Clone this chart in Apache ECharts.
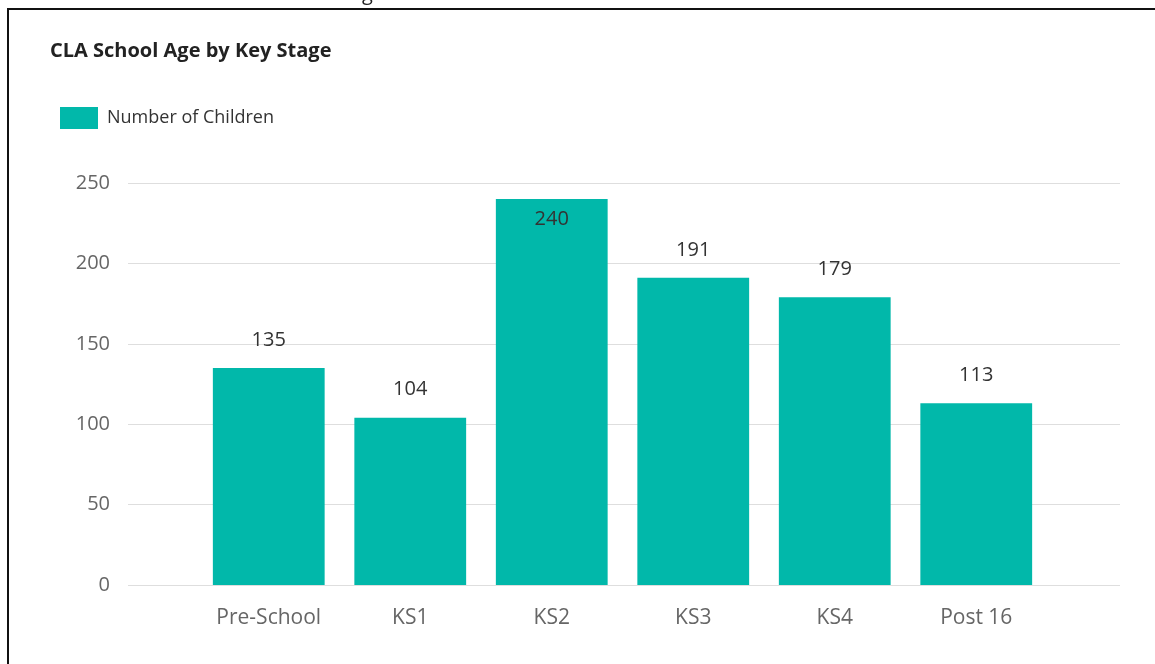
<!DOCTYPE html>
<html><head><meta charset="utf-8">
<script src="https://cdn.jsdelivr.net/npm/echarts@6/dist/echarts.min.js"></script>
<style>
html,body{margin:0;padding:0;background:#fff;}
#c{position:absolute;left:0;top:0;width:1155px;height:664px;}
#frame{position:absolute;left:7px;top:8px;width:1160px;height:700px;border-left:2px solid #111;border-top:2px solid #111;pointer-events:none;}
</style></head>
<body>
<div id="c"></div>
<div id="frame"></div>
<script>
const title = 'CLA School Age by Key Stage';
const seriesName = 'Number of Children';
const categories = ['Pre-School', 'KS1', 'KS2', 'KS3', 'KS4', 'Post 16'];
const values = [135, 104, 240, 191, 179, 113];
const yTicks = [0, 50, 100, 150, 200, 250];

const FONT = 'Open Sans';
const chart = echarts.init(document.getElementById('c'));
const yMax = yTicks[yTicks.length - 1];
const yInterval = yTicks[1] - yTicks[0];

chart.setOption({
  animation: false,
  textStyle: { fontFamily: FONT },
  title: {
    text: title, left: 45, top: 36,
    textStyle: { fontFamily: FONT, fontWeight: 'bold', fontSize: 20, color: '#222' }
  },
  graphic: [{
    type: 'text', left: 362, top: -16,
    style: { text: 'g', fontFamily: FONT, fontSize: 20, fill: '#222' }
  }],
  legend: {
    left: 55, top: 102, itemWidth: 38, itemHeight: 22, itemGap: 10,
    icon: 'rect',
    textStyle: { fontFamily: FONT, fontSize: 18, color: '#333', padding: [0, 0, 0, 4] },
    data: [seriesName]
  },
  grid: [
    { left: 128, right: 35, top: 183, bottom: 79 },
    { left: 198, right: 108, top: 183, bottom: 79 }
  ],
  xAxis: [
    { type: 'category', gridIndex: 0, data: categories, show: false },
    {
      type: 'category', gridIndex: 1, data: categories,
      axisLine: { show: false }, axisTick: { show: false },
      axisLabel: { fontFamily: FONT, fontSize: 21, color: '#666', margin: 23 }
    }
  ],
  yAxis: [
    {
      type: 'value', gridIndex: 0, min: 0, max: yMax, interval: yInterval,
      axisLine: { show: false }, axisTick: { show: false },
      axisLabel: { fontFamily: FONT, fontSize: 20, color: '#666', margin: 18 },
      splitLine: { lineStyle: { color: '#dedede', width: 1 } }
    },
    {
      type: 'value', gridIndex: 1, min: 0, max: yMax, interval: yInterval,
      show: false, splitLine: { show: false }
    }
  ],
  series: [{
    name: seriesName, type: 'bar', xAxisIndex: 1, yAxisIndex: 1,
    barCategoryGap: '21%',
    itemStyle: { color: '#01B8AA' },
    label: {
      show: true, position: 'top', distance: 18,
      fontFamily: FONT, fontSize: 20, color: '#333'
    },
    data: values.map(v => v > yMax * 0.93
      ? { value: v, label: { position: 'insideTop', distance: 10 } }
      : v)
  }]
});
</script>
</body></html>
